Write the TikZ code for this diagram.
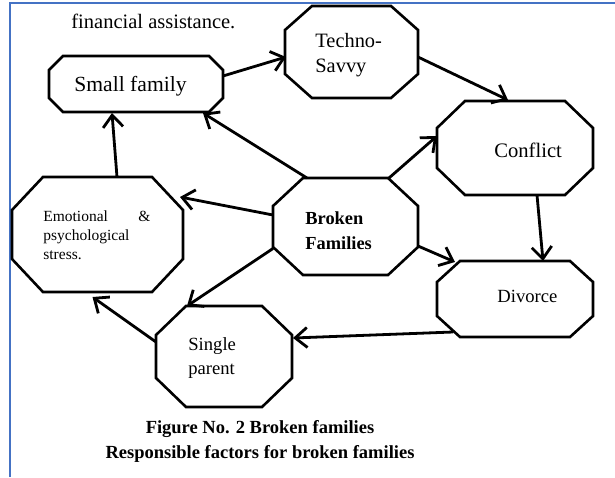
\documentclass[tikz,border=0pt]{standalone}
\usepackage{fontspec}
\setmainfont{Liberation Serif}
\usetikzlibrary{calc,arrows.meta}
\definecolor{wordblue}{HTML}{4472C4}
\tikzset{
  box/.style={draw=none, inner sep=0pt, outer sep=0pt, shape=rectangle},
  oct/.style={draw=black, line width=1.3pt, line join=miter},
  conn/.style={draw=black, line width=1.4pt, -{Straight Barb[length=6pt,width=10pt]}},
  lbl/.style={inner sep=0pt, anchor=west, align=left},
}
\newcommand\octagonpath[3]{\draw[oct] ($(#1.north west)+(#2,0)$) -- ($(#1.north east)+(-#2,0)$) -- ($(#1.north east)+(0,#3)$) -- ($(#1.south east)+(0,-#3)$) -- ($(#1.south east)+(-#2,0)$) -- ($(#1.south west)+(#2,0)$) -- ($(#1.south west)+(0,-#3)$) -- ($(#1.north west)+(0,#3)$) -- cycle;}
\begin{document}
\begin{tikzpicture}[x=0.5pt,y=-0.5pt]
\useasboundingbox (0,0) rectangle (615,477);
\fill[white] (0,0) rectangle (615,477);
\draw[wordblue, line width=1.1pt] (10,477) -- (10,3) -- (615,3);

% shapes
\node[box, minimum width=87pt, minimum height=28pt] (sf) at (136,84) {};
\node[box, minimum width=66.5pt, minimum height=46pt] (ts) at (351.5,52) {};
\node[box, minimum width=78pt, minimum height=47pt] (cf) at (515,148) {};
\node[box, minimum width=72.5pt, minimum height=48.5pt] (bf) at (345.5,226.5) {};
\node[box, minimum width=85.5pt, minimum height=57.5pt] (em) at (97.5,234.5) {};
\node[box, minimum width=78pt, minimum height=38pt] (dv) at (515,299) {};
\node[box, minimum width=68pt, minimum height=50.5pt] (sp) at (224,356.5) {};

\octagonpath{sf}{14}{14}
\octagonpath{ts}{27}{24}
\octagonpath{cf}{28}{27}
\octagonpath{bf}{30}{28}
\octagonpath{em}{31}{33}
\octagonpath{dv}{23}{21}
\octagonpath{sp}{30}{29}

% texts
\node[lbl, font=\fontsize{10.25}{12.5}\selectfont] (fin) at (71,21) {financial assistance.};
\node[lbl, font=\fontsize{10.8}{12.5}\selectfont] (sft) at (74,86) {Small family};
\node[lbl, font=\fontsize{10.2}{12.5}\selectfont] (tst) at (315,55.5) {Techno-\\Savvy};
\node[lbl, font=\fontsize{10.3}{12.5}\selectfont] (cft) at (494,150) {Conflict};
\node[lbl, font=\bfseries\fontsize{9.2}{12.5}\selectfont] (bft) at (305,230.5) {Broken\\Families};
\node[lbl, font=\fontsize{7.75}{9.5}\selectfont] (emt) at (43,235) {\hbox to 53.5pt{Emotional\hfill\&}\\psychological\\stress.};
\node[lbl, font=\fontsize{9.3}{12.5}\selectfont] (dvt) at (497,296) {Divorce};
\node[lbl, font=\fontsize{9.3}{12}\selectfont] (spt) at (188,358) {Single\\parent};
\node[inner sep=0pt, align=center, font=\bfseries\fontsize{9.25}{12.5}\selectfont] (cap) at (260,441.5) {Figure No. 2 Broken families\\Responsible factors for broken families};

% connectors
\draw[conn] ($(sf.east)+(0,-8)$) -- ($(ts.west)+(1,5)$);
\draw[conn] ($(ts.east)+(0,5)$) -- ($(cf.north)+(-7,-1)$);
\draw[conn] ($(bf.north east)+(-29,0)$) -- ($(cf.west)+(0,-12)$);
\draw[conn] ($(cf.south)+(22,0)$) -- ($(dv.north)+(28,0)$);
\draw[conn] ($(bf.east)+(0,19.5)$) -- ($(dv.north west)+(18,1)$);
\draw[conn] ($(dv.south west)+(16,-5)$) -- ($(sp.east)+(1,-18.5)$);
\draw[conn] ($(bf.west)+(0,22)$) -- ($(sp.north west)+(31,0)$);
\draw[conn] ($(sp.west)+(0,-14.5)$) -- ($(em.south)+(-5,5)$);
\draw[conn] ($(bf.west)+(0,-11.5)$) -- ($(em.north east)+(-3,20)$);
\draw[conn] ($(em.north)+(19.5,0)$) -- ($(sf.south)+(-24,1)$);
\draw[conn] ($(bf.north west)+(34,0)$) -- ($(sf.south east)+(-20,1)$);
\end{tikzpicture}
\end{document}
